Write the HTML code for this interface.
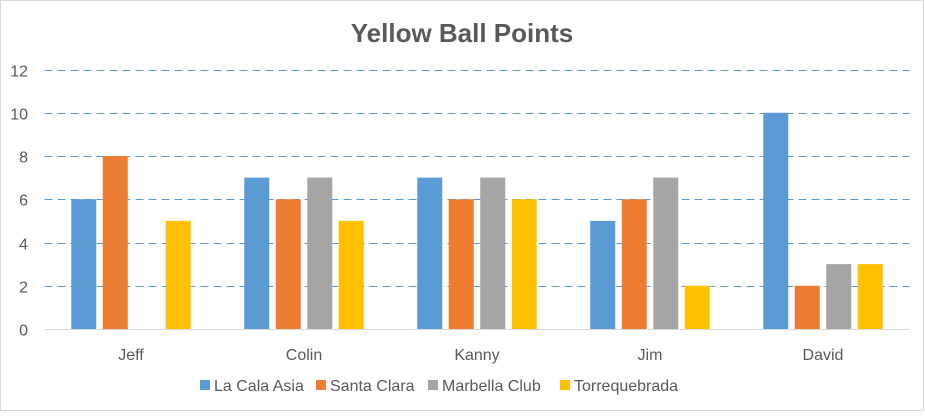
<!DOCTYPE html>
<html><head><meta charset="utf-8">
<style>
html,body{margin:0;padding:0;background:#fff;}
body{width:925px;height:412px;overflow:hidden;font-family:"Liberation Sans",sans-serif;}
svg text{font-family:"Liberation Sans",sans-serif;}
</style></head>
<body>
<svg id="chart" width="925" height="412" xmlns="http://www.w3.org/2000/svg">
<rect x="0.5" y="0.5" width="923" height="410" fill="#fff" stroke="#d9d9d9"/>
<text x="462" y="42" text-anchor="middle" font-size="26" font-weight="bold" fill="#595959">Yellow Ball Points</text>
<g id="grid"></g>
<g id="yticks"></g>
<g id="bars"></g>
<g id="xticks"></g>
<g id="legend"></g>
</svg>
<script>
const categories = ["Jeff","Colin","Kanny","Jim","David"];
const seriesNames = ["La Cala Asia","Santa Clara","Marbella Club","Torrequebrada"];
const laCalaAsia = [6,7,7,5,10];
const santaClara = [8,6,6,6,2];
const marbellaClub = [0,7,7,7,3];
const torrequebrada = [5,5,6,2,3];
const yTicks = [0,2,4,6,8,10,12];
const colors = ["#5b9bd5","#ed7d31","#a5a5a5","#ffc000"];
const series = [laCalaAsia,santaClara,marbellaClub,torrequebrada];
const NS="http://www.w3.org/2000/svg";
const plotL=44.5, plotR=909.5, y0=329, yTop=69.5, yMax=12;
function yS(v){return y0-(v/yMax)*(y0-yTop);}
const catW=(plotR-plotL)/categories.length;
function xC(i){return plotL+catW*(i+0.5);}
const barW=25, gap=6.5;
function mk(tag,attrs,parent){const e=document.createElementNS(NS,tag);for(const k in attrs)e.setAttribute(k,attrs[k]);parent.appendChild(e);return e;}
const grid=document.getElementById('grid'), yt=document.getElementById('yticks');
yTicks.forEach(t=>{
  const y=Math.round(yS(t))+0.5;
  if(t>0){const l=mk('line',{x1:plotL,x2:plotR,y1:y,y2:y,stroke:'#5b9bd5','stroke-width':1,'stroke-dasharray':'8,5'},grid);
  
  }
  const tx=mk('text',{x:28,y:y+6,'text-anchor':'end','font-size':16,fill:'#595959'},yt);tx.textContent=t;
  
  
});
const axis=mk('line',{x1:plotL,x2:plotR,y1:y0+0.5,y2:y0+0.5,stroke:'#d9d9d9','stroke-width':1},grid);


const bars=document.getElementById('bars'), xt=document.getElementById('xticks');
const groupW=4*barW+3*gap;
categories.forEach((c,i)=>{
  series.forEach((s,j)=>{
    const v=s[i]; if(!v) return;
    const x=xC(i)-groupW/2+j*(barW+gap);
    const r=mk('rect',{x:x,y:yS(v),width:barW,height:y0-yS(v),fill:colors[j]},bars);
    
    
  });
  const tx=mk('text',{x:xC(i),y:360,'text-anchor':'middle','font-size':16,fill:'#595959'},xt);tx.textContent=c;
  
  
});
const legX=[200,316,428,560];
const lg=document.getElementById('legend');
seriesNames.forEach((n,j)=>{
  const g=mk('g',{},lg);
  
  
  mk('rect',{x:legX[j],y:380,width:10,height:10,fill:colors[j]},g);
  const t=mk('text',{x:legX[j]+14,y:391,'font-size':16,fill:'#595959'},g);t.textContent=n;
});
</script>
</body></html>
